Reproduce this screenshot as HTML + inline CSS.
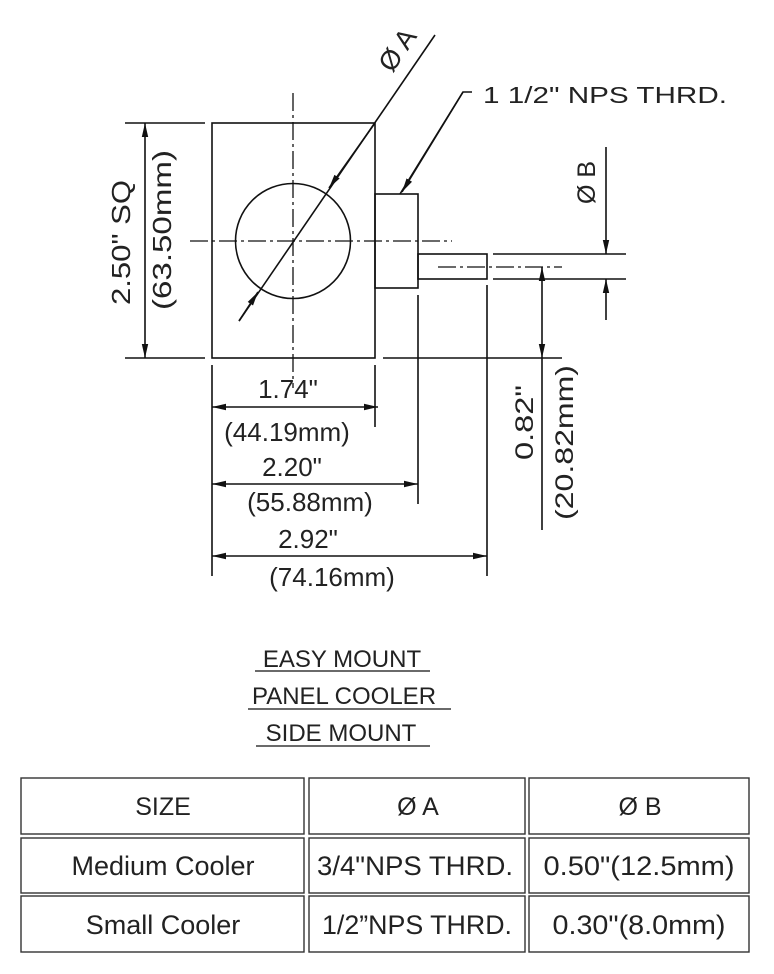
<!DOCTYPE html>
<html><head><meta charset="utf-8"><style>
html,body{margin:0;padding:0;background:#fff;}
svg{display:block;}
text{font-family:"Liberation Sans",sans-serif;fill:#222;}
</style></head><body>
<svg width="774" height="974" viewBox="0 0 774 974" xmlns="http://www.w3.org/2000/svg">
<defs>
<marker id="ar" markerWidth="14" markerHeight="8" refX="14" refY="4" orient="auto" markerUnits="userSpaceOnUse">
<path d="M0,0.8 L14,4 L0,7.2 Z" fill="#111"/>
</marker>
<marker id="as" markerWidth="14" markerHeight="8" refX="0" refY="4" orient="auto" markerUnits="userSpaceOnUse">
<path d="M14,0.8 L0,4 L14,7.2 Z" fill="#111"/>
</marker>
</defs>
<g stroke="#111" stroke-width="1.6" fill="none">
<rect x="212" y="123" width="163" height="235"/>
<circle cx="293" cy="241" r="57.5"/>
<rect x="375" y="194" width="43" height="94"/>
<rect x="418" y="254" width="69" height="25"/>
<line x1="293" y1="93" x2="293" y2="388" stroke-dasharray="18,4,3,4" stroke-width="1.3"/>
<line x1="190" y1="241" x2="452" y2="241" stroke-dasharray="18,4,3,4" stroke-width="1.3"/>
<line x1="438" y1="267" x2="562" y2="267" stroke-dasharray="18,4,3,4" stroke-width="1.3"/>
<line x1="435" y1="35" x2="239" y2="321"/>
<line x1="375" y1="123" x2="329" y2="188" marker-end="url(#ar)"/>
<line x1="239" y1="321" x2="258" y2="292" marker-end="url(#ar)"/>
<polyline points="472,92 463,92 400,194"/>
<line x1="463" y1="92" x2="402" y2="192" marker-end="url(#ar)"/>
<line x1="493" y1="254" x2="626" y2="254"/>
<line x1="493" y1="279" x2="626" y2="279"/>
<line x1="606" y1="147" x2="606" y2="254" marker-end="url(#ar)"/>
<line x1="606" y1="320" x2="606" y2="279" marker-end="url(#ar)"/>
<line x1="125" y1="123" x2="205" y2="123"/>
<line x1="125" y1="358" x2="205" y2="358"/>
<line x1="145" y1="123" x2="145" y2="358" marker-start="url(#as)" marker-end="url(#ar)"/>
<line x1="383" y1="358" x2="562" y2="358"/>
<line x1="542" y1="267" x2="542" y2="358" marker-start="url(#as)" marker-end="url(#ar)"/>
<line x1="542" y1="358" x2="542" y2="530"/>
<line x1="212" y1="365" x2="212" y2="576"/>
<line x1="375" y1="365" x2="375" y2="427"/>
<line x1="418" y1="295" x2="418" y2="504"/>
<line x1="487" y1="285" x2="487" y2="576"/>
<line x1="212" y1="407" x2="378" y2="407" marker-start="url(#as)" marker-end="url(#ar)"/>
<line x1="212" y1="484" x2="418" y2="484" marker-start="url(#as)" marker-end="url(#ar)"/>
<line x1="212" y1="556" x2="487" y2="556" marker-start="url(#as)" marker-end="url(#ar)"/>
<line x1="255" y1="671" x2="430" y2="671" stroke-width="1.2"/>
<line x1="248" y1="709" x2="451" y2="709" stroke-width="1.2"/>
<line x1="256" y1="746" x2="430" y2="746" stroke-width="1.2"/>
</g>
<g stroke="#333" stroke-width="1.4" fill="none">
<rect x="21" y="778" width="283" height="56"/>
<rect x="309" y="778" width="216" height="56"/>
<rect x="529" y="778" width="220" height="56"/>
<rect x="21" y="838" width="283" height="55"/>
<rect x="309" y="838" width="216" height="55"/>
<rect x="529" y="838" width="220" height="55"/>
<rect x="21" y="896" width="283" height="56"/>
<rect x="309" y="896" width="216" height="56"/>
<rect x="529" y="896" width="220" height="56"/>
</g>
<text x="483" y="103" font-size="23" textLength="244" lengthAdjust="spacingAndGlyphs">1 1/2" NPS THRD.</text>
<text transform="translate(405,55) rotate(-55.6)" font-size="27" text-anchor="middle">Ø A</text>
<text transform="translate(595,204) rotate(-90)" font-size="25">Ø B</text>
<text transform="translate(130,305) rotate(-90)" font-size="26" textLength="125" lengthAdjust="spacingAndGlyphs">2.50" SQ</text>
<text transform="translate(171,310) rotate(-90)" font-size="26" textLength="160" lengthAdjust="spacingAndGlyphs">(63.50mm)</text>
<text transform="translate(533,460) rotate(-90)" font-size="25" textLength="75" lengthAdjust="spacingAndGlyphs">0.82"</text>
<text transform="translate(573,520) rotate(-90)" font-size="25" textLength="155" lengthAdjust="spacingAndGlyphs">(20.82mm)</text>
<g font-size="26" text-anchor="middle">
<text x="288" y="398">1.74"</text>
<text x="287" y="441">(44.19mm)</text>
<text x="292" y="476">2.20"</text>
<text x="310" y="511">(55.88mm)</text>
<text x="308" y="548">2.92"</text>
<text x="332" y="586">(74.16mm)</text>
</g>
<g font-size="24" text-anchor="middle">
<text x="342" y="667">EASY MOUNT</text>
<text x="344" y="704">PANEL COOLER</text>
<text x="341" y="741">SIDE MOUNT</text>
</g>
<g font-size="25" text-anchor="middle">
<text x="163" y="815">SIZE</text>
<text x="418" y="815">Ø A</text>
<text x="640" y="815">Ø B</text>
</g>
<g font-size="27" text-anchor="middle">
<text x="163" y="875">Medium Cooler</text>
<text x="163" y="934">Small Cooler</text>
<text x="415" y="875" textLength="196" lengthAdjust="spacingAndGlyphs">3/4"NPS THRD.</text>
<text x="639" y="875" textLength="191" lengthAdjust="spacingAndGlyphs">0.50"(12.5mm)</text>
<text x="417" y="934" textLength="190" lengthAdjust="spacingAndGlyphs">1/2”NPS THRD.</text>
<text x="639" y="934" textLength="173" lengthAdjust="spacingAndGlyphs">0.30"(8.0mm)</text>
</g>
</svg>
</body></html>
